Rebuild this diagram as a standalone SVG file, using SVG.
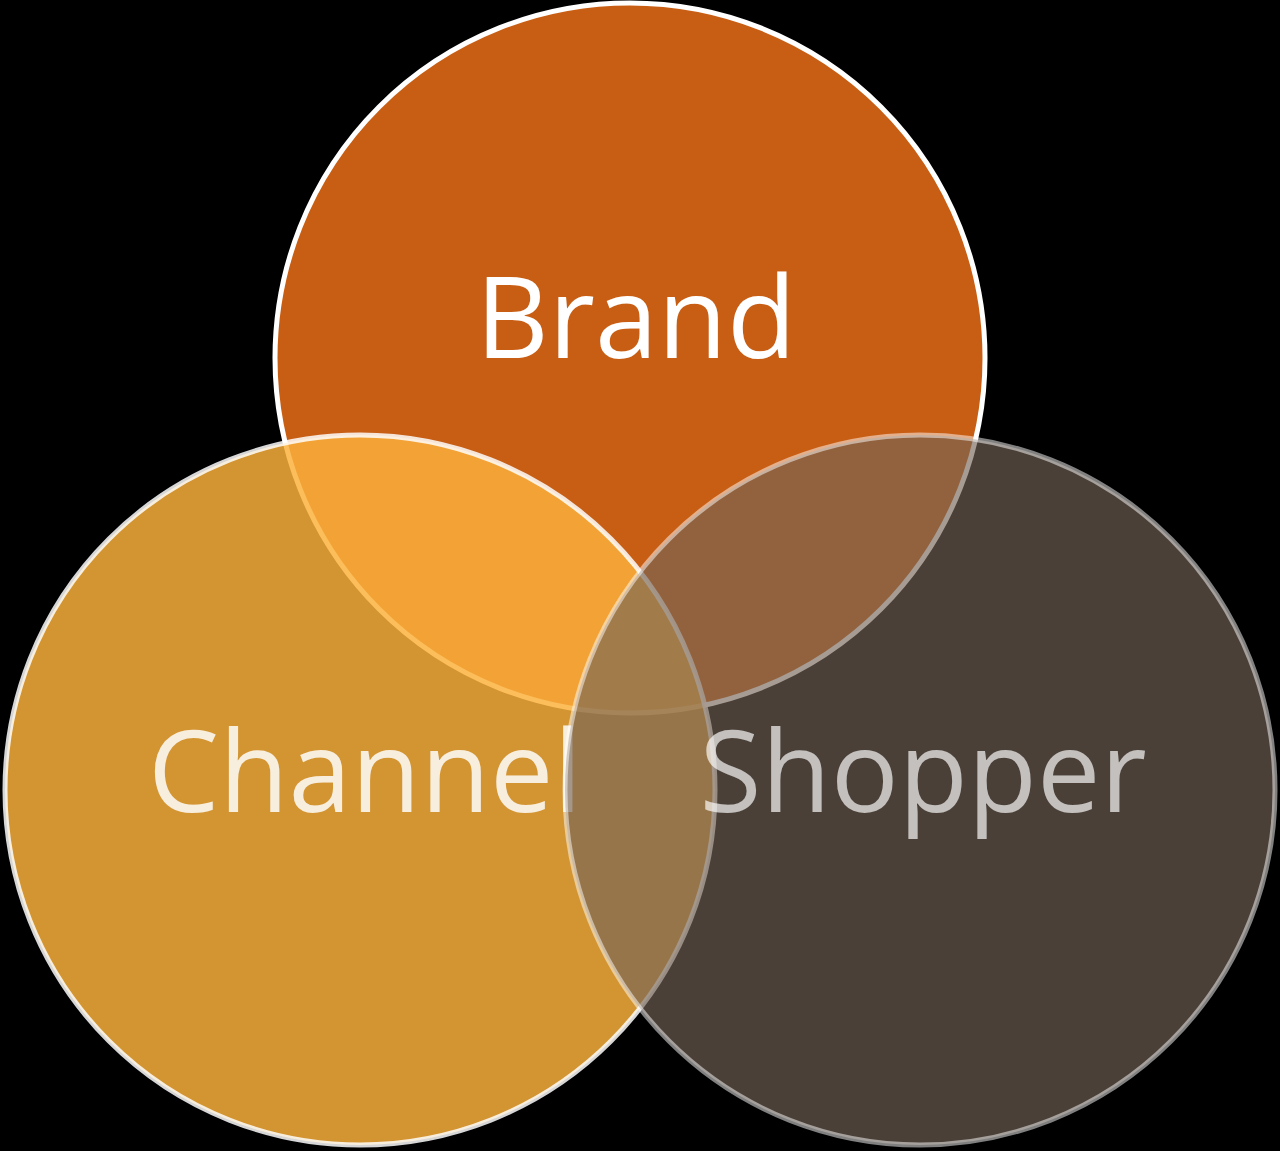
<svg xmlns="http://www.w3.org/2000/svg" width="1280" height="1151" viewBox="0 0 1280 1151">
<style>
.lbl{font-family:"Open Sans","Liberation Sans",sans-serif;font-size:113px;text-anchor:middle;fill:#ffffff}
</style>
<rect x="0" y="0" width="1280" height="1151" fill="#000000"/>
<g id="brand">
<circle cx="630" cy="358" r="355" fill="#C85E14" stroke="#ffffff" stroke-width="5"/>
<text class="lbl" x="636" y="358">Brand</text>
</g>
<g id="channel">
<circle cx="360" cy="790" r="355" fill="#FCB03C" fill-opacity="0.84" stroke="#ffffff" stroke-opacity="0.84" stroke-width="5"/>
<text class="lbl" x="365" y="812" fill-opacity="0.84">Channel</text>
</g>
<g id="shopper">
<circle cx="920" cy="790" r="355" fill="#746458" fill-opacity="0.64" stroke="#ffffff" stroke-opacity="0.5" stroke-width="5"/>
<text class="lbl" x="923" y="812" fill-opacity="0.67">Shopper</text>
</g>
<g id="connectors"></g>
</svg>
